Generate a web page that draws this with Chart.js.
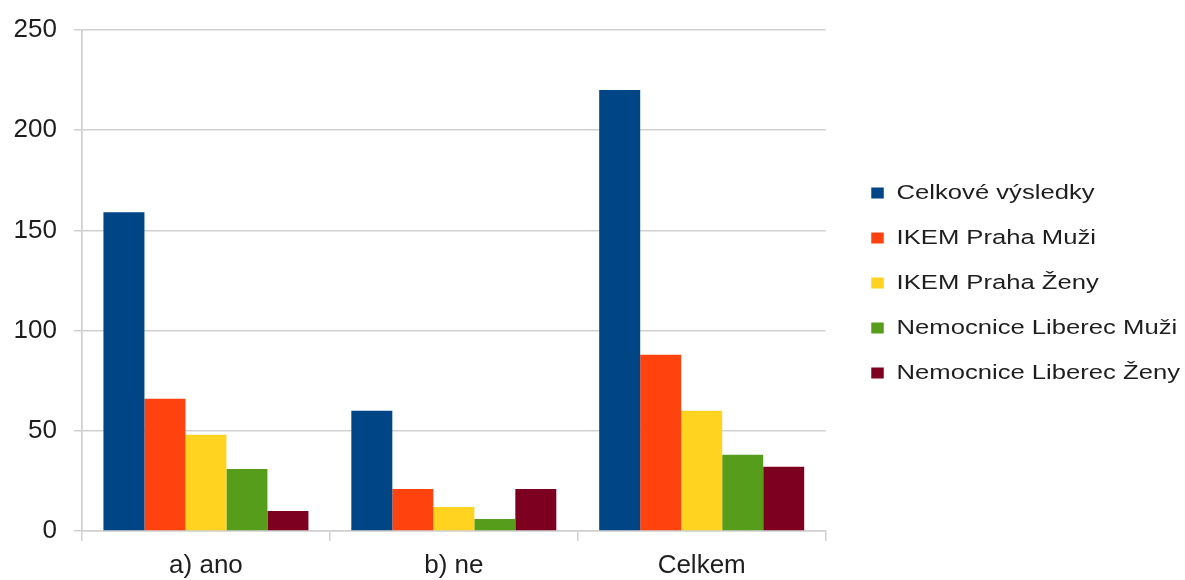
<!DOCTYPE html>
<html>
<head>
<meta charset="utf-8">
<script src="https://cdn.jsdelivr.net/npm/chart.js@4/dist/chart.umd.min.js"></script>
<style>
  html, body { margin: 0; padding: 0; background: #ffffff; }
  canvas { display: block; }
</style>
</head>
<body>
<canvas id="chart" width="1185" height="580"></canvas>
<script>
// Categories and series values
const categories = ['a) ano', 'b) ne', 'Celkem'];
const seriesNames = [
  'Celkové výsledky',
  'IKEM Praha Muži',
  'IKEM Praha Ženy',
  'Nemocnice Liberec Muži',
  'Nemocnice Liberec Ženy'
];
const celkoveVysledky = [159, 60, 220];
const ikemMuzi = [66, 21, 88];
const ikemZeny = [48, 12, 60];
const liberecMuzi = [31, 6, 38];
const liberecZeny = [10, 21, 32];
const yTicks = [0, 50, 100, 150, 200, 250];

const seriesValues = [celkoveVysledky, ikemMuzi, ikemZeny, liberecMuzi, liberecZeny];
const seriesColors = ['#004586', '#ff420e', '#ffd320', '#579d1c', '#7e0021'];

const GRID = '#d0d0d0';
const TEXT = '#1e1e1e';
const FONT = "'Liberation Sans', Arial, sans-serif";

// Legend drawn horizontally widened, set a little apart from the plot
const LEGEND_STRETCH = 1.25;
const LEGEND_GAP = 15;
const LEGEND_SHIFT_Y = 2.5;

const legendStretch = {
  id: 'legendStretch',
  afterInit(chart) {
    const legend = chart.legend;
    if (!legend) return;
    const origUpdate = legend.update;
    legend.update = function (maxWidth, maxHeight, margins) {
      return origUpdate.call(this, chart.width, maxHeight, margins);
    };
    const origFit = legend.fit;
    legend.fit = function () {
      origFit.call(this);
      this.width = (this.width - 10) * LEGEND_STRETCH + 5 + LEGEND_GAP;
    };
    const origDraw = legend.draw;
    legend.draw = function (...args) {
      const ctx = chart.ctx;
      ctx.save();
      ctx.translate(this.left + LEGEND_GAP, LEGEND_SHIFT_Y);
      ctx.scale(LEGEND_STRETCH, 1);
      ctx.translate(-this.left, 0);
      origDraw.apply(this, args);
      ctx.restore();
    };
  }
};

new Chart(document.getElementById('chart'), {
  type: 'bar',
  data: {
    labels: categories,
    datasets: seriesNames.map((name, i) => ({
      label: name,
      data: seriesValues[i],
      backgroundColor: seriesColors[i],
      borderWidth: 0,
      barPercentage: 1.0,
      categoryPercentage: 0.827
    }))
  },
  options: {
    responsive: false,
    animation: false,
    devicePixelRatio: 1,
    layout: { padding: { top: 28, left: 0, right: 0, bottom: 0 } },
    plugins: {
      tooltip: { enabled: false },
      legend: {
        position: 'right',
        fullSize: false,
        align: 'center',
        labels: {
          boxWidth: 10,
          boxHeight: 11,
          padding: 24.5,
          color: TEXT,
          font: { family: FONT, size: 20.5, lineHeight: 1 }
        }
      }
    },
    scales: {
      x: {
        afterFit: (scale) => { scale.height = 49; },
        grid: {
          offset: true,
          color: (c) => (c.index === 0 || c.index === categories.length ? GRID : 'rgba(0,0,0,0)'),
          tickColor: GRID,
          tickLength: 10,
          lineWidth: 1.5
        },
        border: { display: true, color: GRID, width: 1.5 },
        ticks: {
          color: TEXT,
          padding: 9,
          font: { family: FONT, size: 26 }
        }
      },
      y: {
        min: 0,
        max: 250,
        afterFit: (scale) => { scale.width = 82; },
        afterBuildTicks: (scale) => { scale.ticks = yTicks.map((v) => ({ value: v })); },
        grid: {
          color: GRID,
          tickColor: GRID,
          tickLength: 8,
          lineWidth: 1.5
        },
        border: { display: true, color: GRID, width: 1.5 },
        ticks: {
          color: TEXT,
          padding: 17,
          font: { family: FONT, size: 26, lineHeight: 1 }
        }
      }
    }
  },
  plugins: [legendStretch]
});
</script>
</body>
</html>
